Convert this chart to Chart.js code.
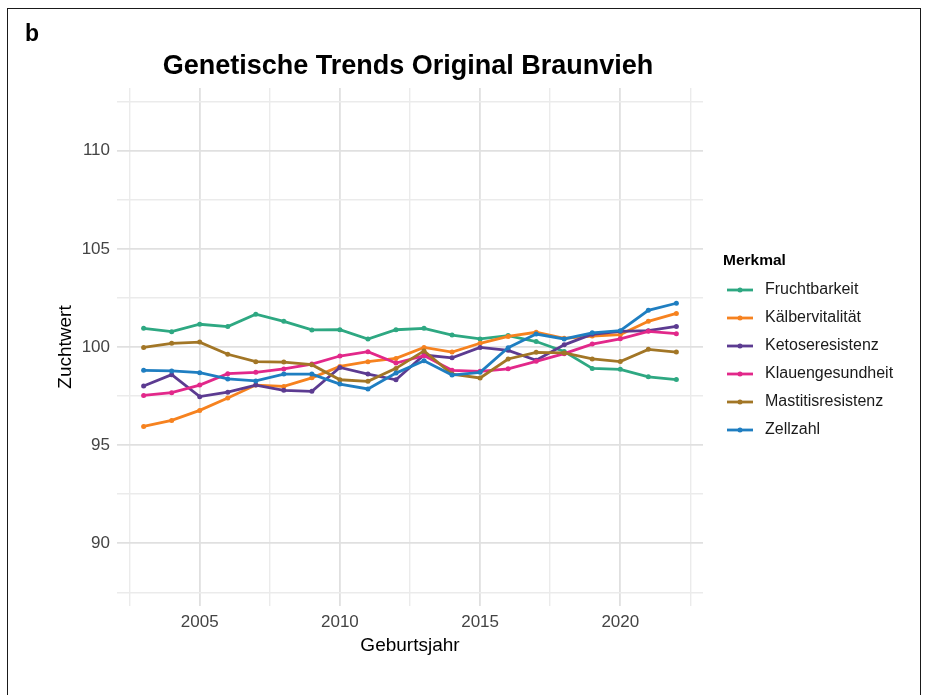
<!DOCTYPE html>
<html>
<head>
<meta charset="utf-8">
<script src="https://cdn.jsdelivr.net/npm/chart.js@4"></script>
<style>
  html, body { margin: 0; padding: 0; background: #fff; }
  #wrap { position: relative; width: 930px; height: 695px; overflow: hidden; }
  #frame { position: absolute; left: 7px; top: 8px; width: 914px; height: 720px; border: 1.5px solid #1a1a1a; box-sizing: border-box; }
  #chart { position: absolute; left: 0; top: 0; }
</style>
</head>
<body>
<div id="wrap">
  <div id="frame"></div>
  <canvas id="chart" width="930" height="695"></canvas>
</div>
<script>
const years = [2003, 2004, 2005, 2006, 2007, 2008, 2009, 2010, 2011, 2012,
               2013, 2014, 2015, 2016, 2017, 2018, 2019, 2020, 2021, 2022];

const fruchtbarkeit = [100.95, 100.78, 101.16, 101.04, 101.67, 101.31, 100.87, 100.88, 100.41, 100.88,
                       100.95, 100.61, 100.41, 100.58, 100.28, 99.77, 98.91, 98.86, 98.48, 98.34];
const kaelbervitalitaet = [95.95, 96.26, 96.77, 97.40, 98.06, 97.99, 98.43, 99.01, 99.25, 99.42,
                           99.98, 99.74, 100.19, 100.54, 100.75, 100.44, 100.56, 100.63, 101.31, 101.71];
const ketoseresistenz = [98.01, 98.59, 97.47, 97.70, 98.06, 97.79, 97.74, 98.96, 98.62, 98.33,
                         99.59, 99.45, 99.98, 99.83, 99.32, 100.11, 100.65, 100.80, 100.83, 101.05];
const klauengesundheit = [97.53, 97.67, 98.06, 98.64, 98.71, 98.88, 99.13, 99.54, 99.76, 99.18,
                          99.56, 98.81, 98.76, 98.89, 99.27, 99.66, 100.15, 100.42, 100.80, 100.68];
const mastitisresistenz = [99.98, 100.19, 100.25, 99.63, 99.25, 99.23, 99.10, 98.33, 98.25, 98.91,
                           99.80, 98.62, 98.42, 99.39, 99.73, 99.70, 99.39, 99.26, 99.88, 99.74];
const zellzahl = [98.81, 98.78, 98.69, 98.37, 98.27, 98.62, 98.62, 98.11, 97.86, 98.67,
                  99.30, 98.57, 98.71, 99.96, 100.66, 100.41, 100.72, 100.83, 101.87, 102.23];

const seriesNames = ['Fruchtbarkeit', 'Kälbervitalität', 'Ketoseresistenz',
                     'Klauengesundheit', 'Mastitisresistenz', 'Zellzahl'];
const seriesValues = [fruchtbarkeit, kaelbervitalitaet, ketoseresistenz,
                      klauengesundheit, mastitisresistenz, zellzahl];
const seriesColors = ['#2ea882', '#f6821f', '#5c3b91', '#e2288a', '#a27626', '#1f7ec1'];

const xTicks = [2002.5, 2005, 2007.5, 2010, 2012.5, 2015, 2017.5, 2020, 2022.5];
const yTicks = [87.5, 90, 92.5, 95, 97.5, 100, 102.5, 105, 107.5, 110, 112.5];

const FONT = "'Liberation Sans', Arial, Helvetica, sans-serif";
Chart.defaults.font.family = FONT;

const datasets = seriesNames.map((name, i) => ({
  label: name,
  data: years.map((yr, j) => ({ x: yr, y: seriesValues[i][j] })),
  borderColor: seriesColors[i],
  backgroundColor: seriesColors[i],
  borderWidth: 2.8,
  pointRadius: 2.5,
  pointHoverRadius: 2.5,
  pointBorderWidth: 0,
  tension: 0,
  order: seriesNames.length - i
}));

function gridColor(ctx) {
  return ctx.tick && ctx.tick.value % 5 === 0 ? '#e0e0e0' : '#ebebeb';
}
function gridWidth(ctx) {
  return ctx.tick && ctx.tick.value % 5 === 0 ? 1.8 : 1.4;
}

// title, panel letter and legend drawn on the canvas
const decorations = {
  id: 'decorations',
  afterDraw(chart) {
    const ctx = chart.ctx;
    const area = chart.chartArea;
    ctx.save();
    ctx.fillStyle = '#000';
    ctx.textBaseline = 'middle';

    ctx.font = 'bold 23px ' + FONT;
    ctx.textAlign = 'left';
    ctx.fillText('b', 25, 35);

    ctx.font = 'bold 27px ' + FONT;
    ctx.textAlign = 'center';
    ctx.fillText('Genetische Trends Original Braunvieh', (area.left + area.right) / 2 - 2, 67);

    ctx.textAlign = 'left';
    ctx.font = 'bold 15.5px ' + FONT;
    ctx.fillText('Merkmal', 723, 261);

    ctx.font = '16px ' + FONT;
    seriesNames.forEach((name, i) => {
      const y = 290 + 28 * i;
      ctx.strokeStyle = seriesColors[i];
      ctx.lineWidth = 2.8;
      ctx.beginPath();
      ctx.moveTo(727, y);
      ctx.lineTo(753, y);
      ctx.stroke();
      ctx.fillStyle = seriesColors[i];
      ctx.beginPath();
      ctx.arc(740, y, 2.5, 0, Math.PI * 2);
      ctx.fill();
      ctx.fillStyle = '#1a1a1a';
      ctx.fillText(name, 765, y);
    });
    ctx.restore();
  }
};

new Chart(document.getElementById('chart'), {
  type: 'line',
  data: { datasets: datasets },
  options: {
    responsive: false,
    animation: false,
    layout: { padding: { top: 88, right: 227, left: 0, bottom: 0 } },
    plugins: {
      legend: { display: false },
      title: { display: false },
      tooltip: { enabled: false }
    },
    scales: {
      x: {
        type: 'linear',
        min: 2002.05,
        max: 2022.95,
        afterBuildTicks: s => { s.ticks = xTicks.map(v => ({ value: v })); },
        afterFit: s => { s.height = 89; },
        grid: { color: gridColor, lineWidth: gridWidth, drawTicks: false },
        border: { display: false },
        ticks: {
          autoSkip: false,
          maxRotation: 0,
          padding: 6,
          color: '#444',
          font: { size: 17 },
          callback: v => (v % 5 === 0 ? String(v) : '')
        },
        title: {
          display: true,
          text: 'Geburtsjahr',
          color: '#000',
          font: { size: 19 },
          padding: { top: 0, bottom: 38 }
        }
      },
      y: {
        min: 86.8,
        max: 113.2,
        afterBuildTicks: s => { s.ticks = yTicks.map(v => ({ value: v })); },
        afterFit: s => { s.width = 117; },
        grid: { color: gridColor, lineWidth: gridWidth, drawTicks: false },
        border: { display: false },
        ticks: {
          autoSkip: false,
          padding: 7,
          color: '#444',
          font: { size: 17 },
          callback: v => (v % 5 === 0 ? String(v) : '')
        },
        title: {
          display: true,
          text: 'Zuchtwert',
          color: '#000',
          font: { size: 19 },
          padding: { top: 54, bottom: 0 }
        }
      }
    }
  },
  plugins: [decorations]
});
</script>
</body>
</html>
